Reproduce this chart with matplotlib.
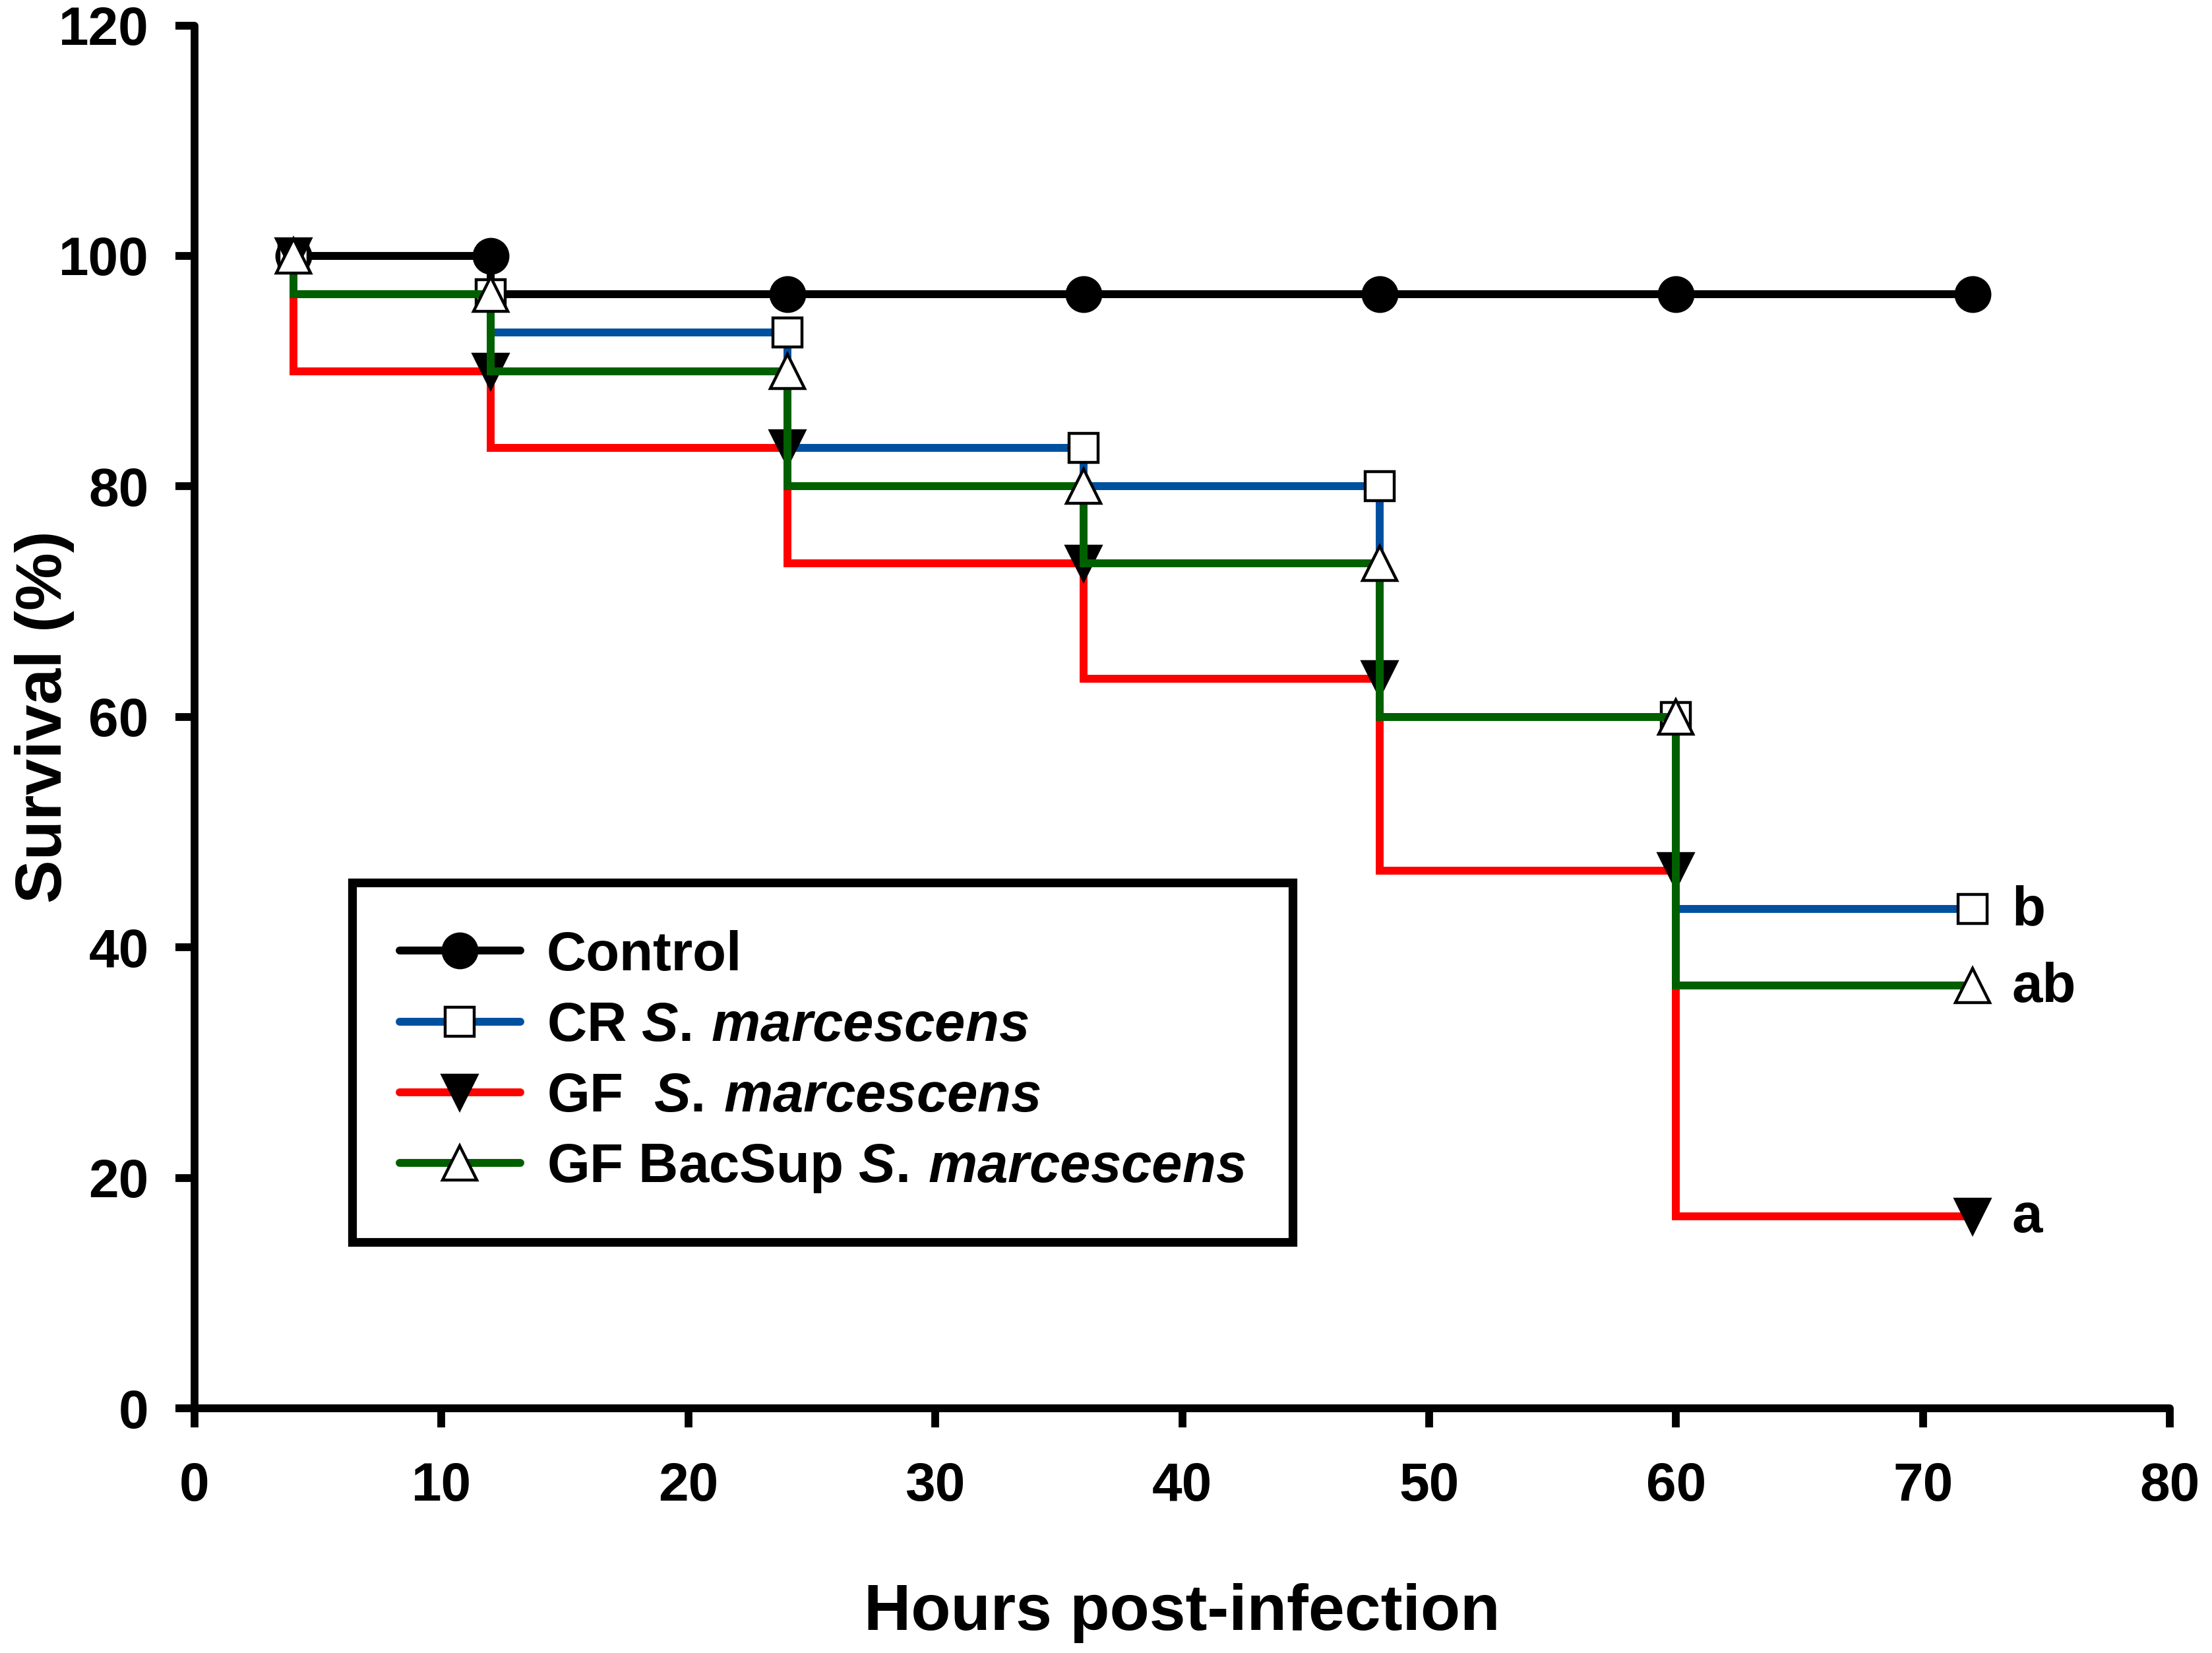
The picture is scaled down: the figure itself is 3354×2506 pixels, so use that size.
import matplotlib
matplotlib.use("Agg")
import matplotlib.pyplot as plt

plt.rcParams['font.family'] = ['Liberation Sans', 'DejaVu Sans']
plt.rcParams['font.weight'] = 'bold'
plt.rcParams['mathtext.fontset'] = 'custom'
plt.rcParams['mathtext.rm'] = 'Liberation Sans:bold'
plt.rcParams['mathtext.it'] = 'Liberation Sans:bold:italic'
plt.rcParams['mathtext.bf'] = 'Liberation Sans:bold'

# ---------------- data ----------------
times = [4, 12, 24, 36, 48, 60, 72]
control = [100, 100, 96.67, 96.67, 96.67, 96.67, 96.67]
cr_sm = [100, 96.67, 93.33, 83.33, 80.0, 60.0, 43.33]
gf_sm = [100, 90.0, 83.33, 73.33, 63.33, 46.67, 16.67]
gf_bacsup_sm = [100, 96.67, 90.0, 80.0, 73.33, 60.0, 36.67]

series_labels = ["Control",
                 r"CR $\it{S.\,marcescens}$",
                 r"GF  $\it{S.\,marcescens}$",
                 r"GF BacSup $\it{S.\,marcescens}$"]
sig_letters = ["b", "ab", "a"]

x_ticks = [0, 10, 20, 30, 40, 50, 60, 70, 80]
y_ticks = [0, 20, 40, 60, 80, 100, 120]

# ---------------- figure ----------------
W, H = 3354, 2506
fig = plt.figure(figsize=(W / 100, H / 100), dpi=100)
ax = fig.add_axes([295 / W, 1 - 2135 / H, (3290 - 295) / W, (2135 - 38.5) / H])

lw = 8.6
mew = 3.2
common = dict(drawstyle='steps-pre', linewidth=lw, markeredgewidth=mew,
              markeredgecolor='black', clip_on=False,
              solid_joinstyle='miter', solid_capstyle='butt')

ax.plot(times, control, color='black', marker='o', markersize=37,
        markerfacecolor='black', label=series_labels[0], **common)
ax.plot(times, cr_sm, color='#0050a0', marker='s', markersize=32,
        markerfacecolor='white', label=series_labels[1], **common)
ax.plot(times, gf_sm, color='#ff0000', marker='v', markersize=37,
        markerfacecolor='black', label=series_labels[2], **common)
ax.plot(times, gf_bacsup_sm, color='#006000', marker='^', markersize=37,
        markerfacecolor='white', label=series_labels[3], **common)

# significance letters
ends = [cr_sm[-1], gf_bacsup_sm[-1], gf_sm[-1]]
for letter, yv in zip(sig_letters, ends):
    ax.text(73.6, yv - 1.4, letter, fontsize=60, fontweight='bold',
            ha='left', va='baseline')

ax.set_xlim(0, 80)
ax.set_ylim(0, 120)
ax.set_xticks(x_ticks)
ax.set_yticks(y_ticks)

for side in ['top', 'right']:
    ax.spines[side].set_visible(False)
for side in ['left', 'bottom']:
    ax.spines[side].set_linewidth(8.5)
    ax.spines[side].set_capstyle('round')

ax.tick_params(axis='both', direction='out', length=21, width=8.5,
               labelsize=59, colors='black')
ax.tick_params(axis='x', pad=37)
ax.tick_params(axis='y', pad=29)
for lab in ax.get_xticklabels() + ax.get_yticklabels():
    lab.set_fontweight('bold')

ax.set_xlabel("Hours post-infection", fontsize=71, fontweight='bold')
ax.set_ylabel("Survival (%)", fontsize=71, fontweight='bold')
ax.xaxis.label.set_va('baseline')
ax.xaxis.set_label_coords(0.5, -(2471 - 2135) / (2135 - 38.5))
ax.yaxis.label.set_va('baseline')
ax.yaxis.set_label_coords((93 - 295) / (3290 - 295), 0.5)

leg = ax.legend(loc='upper left', bbox_to_anchor=(534 / W, 1 - 1338 / H),
                bbox_transform=fig.transFigure, borderaxespad=0,
                prop={'size': 60, 'weight': 'bold'}, numpoints=1,
                handlelength=2.2, handletextpad=0.48, borderpad=0.86,
                labelspacing=0.35, fancybox=False, framealpha=1,
                edgecolor='black')
leg.get_frame().set_linewidth(9.5)
leg.get_frame().set_joinstyle('miter')
for line in leg.get_lines():
    line.set_solid_capstyle('round')

fig.savefig("out.png", dpi=100, facecolor='white')
